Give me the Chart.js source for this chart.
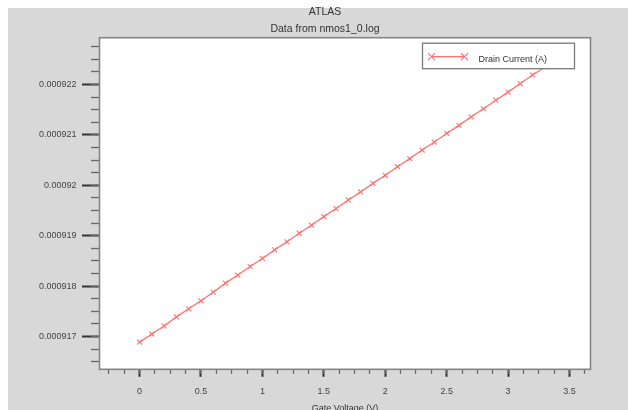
<!DOCTYPE html>
<html>
<head>
<meta charset="utf-8">
<script src="https://cdn.jsdelivr.net/npm/chart.js"></script>
<style>
    html, body { margin: 0; padding: 0; background: #fff; overflow: hidden; }
    #bg { position: absolute; left: 8px; top: 8px; width: 620px; height: 402px; background: #d8d8d8; }
    #wrap { position: absolute; left: 8px; top: 0px; width: 620px; height: 414px; }
</style>
</head>
<body>
<div id="bg"></div>
<div id="wrap"><canvas id="chart1" width="620" height="414"></canvas></div>
<script>
// ------------------------------- DATA

var gateVoltage = [0, 0.1, 0.2, 0.3, 0.4, 0.5, 0.6, 0.7, 0.8, 0.9,
    1.0, 1.1, 1.2, 1.3, 1.4, 1.5, 1.6, 1.7, 1.8, 1.9,
    2.0, 2.1, 2.2, 2.3, 2.4, 2.5, 2.6, 2.7, 2.8, 2.9,
    3.0, 3.1, 3.2, 3.3]

var drainCurrent = [0.00091689, 0.00091705, 0.00091721, 0.00091739, 0.00091755, 0.00091771, 0.00091788, 0.00091806, 0.00091822, 0.00091839,
    0.00091855, 0.00091872, 0.00091888, 0.00091905, 0.00091921, 0.00091938, 0.00091954, 0.00091971, 0.00091987, 0.00092004,
    0.00092020, 0.00092037, 0.00092053, 0.00092070, 0.00092086, 0.00092103, 0.00092119, 0.00092136, 0.00092152, 0.00092169,
    0.00092185, 0.00092202, 0.00092219, 0.00092235]

var xTicks = [0, 0.5, 1, 1.5, 2, 2.5, 3, 3.5]
var xTickLabels = ['0', '0.5', '1', '1.5', '2', '2.5', '3', '3.5']
var yTicks = [0.000917, 0.000918, 0.000919, 0.00092, 0.000921, 0.000922]
var yTickLabels = ['0.000917', '0.000918', '0.000919', '0.00092', '0.000921', '0.000922']

var seriesLabel = 'Drain Current (A)'
var titleText = 'ATLAS'
var subtitleText = 'Data from nmos1_0.log'
var xTitle = 'Gate Voltage (V)'


// ------------------------------- SETTINGS

var lineCol = 'rgb(255,112,112)'
var fontFam = "'Liberation Sans', Arial, sans-serif"
var font9 = {family: fontFam, size: 9}
var xRange = {min: -0.326, max: 3.671}
var yRange = {min: 0.00091635, max: 0.00092293}

function minorTicks(major, n, range){
    // n minor steps between majors, kept inside the axis range
    let step = (major[1]-major[0])/n
    let out = []
    for(let k = -n; k <= (major.length-1)*n + n; k++){
        let v = major[0] + k*step
        if(v > range.min && v < range.max) out.push({value: v})
    }
    return out
}

var frame = {
    id: 'frame',
    beforeDraw: (chart) => {
        let a = chart.chartArea
        let ctx = chart.ctx
        ctx.save()
        ctx.fillStyle = '#fff'
        ctx.fillRect(a.left, a.top, a.right-a.left, a.bottom-a.top)
        ctx.restore()
    },
    afterDatasetsDraw: (chart) => {
        let a = chart.chartArea
        let ctx = chart.ctx
        ctx.save()
        ctx.strokeStyle = '#858585'
        ctx.lineWidth = 1.6
        ctx.strokeRect(a.left, a.top, a.right-a.left, a.bottom-a.top)

        // legend box
        let bx = a.right - 168, by = a.top + 5.5, bw = 152, bh = 25.5
        ctx.fillStyle = '#fff'
        ctx.fillRect(bx, by, bw, bh)
        ctx.strokeStyle = '#7a7a7a'
        ctx.lineWidth = 1.3
        ctx.strokeRect(bx, by, bw, bh)

        let ly = by + 13.5
        let x1 = bx + 9, x2 = bx + 42
        ctx.strokeStyle = lineCol
        ctx.lineWidth = 1.2
        ctx.beginPath()
        ctx.moveTo(x1, ly)
        ctx.lineTo(x2, ly)
        for(let cx of [x1, x2]){
            ctx.moveTo(cx-3.5, ly-3.5); ctx.lineTo(cx+3.5, ly+3.5)
            ctx.moveTo(cx-3.5, ly+3.5); ctx.lineTo(cx+3.5, ly-3.5)
        }
        ctx.stroke()

        ctx.fillStyle = '#333'
        ctx.font = '9px ' + fontFam
        ctx.textBaseline = 'middle'
        ctx.fillText(seriesLabel, bx + 56, ly + 2.5)
        ctx.restore()
    }
}

var chart = document.getElementById('chart1')
var ivChart = new Chart(chart, {
    type: 'line',
    data: {
        datasets: [{
            label: seriesLabel,
            data: gateVoltage.map((v, i) => ({x: v, y: drainCurrent[i]})),
            borderColor: lineCol,
            backgroundColor: lineCol,
            borderWidth: 1.3,
            pointStyle: 'crossRot',
            pointRadius: 3.5,
            pointBorderWidth: 1.1,
            pointBorderColor: lineCol,
            tension: 0,
            yAxisID: 'y'
        }]
    },
    options: {
        responsive: false,
        animation: false,
        layout: {padding: {left: 14, right: 0, top: 0, bottom: 0}},
        plugins: {
            legend: {display: false},
            tooltip: {enabled: false},
            title: {
                display: true,
                text: titleText,
                color: '#333',
                font: {family: fontFam, size: 10.5, weight: 'normal', lineHeight: 1.2},
                padding: {top: 5.7, bottom: 2}
            },
            subtitle: {
                display: true,
                text: subtitleText,
                color: '#333',
                font: {family: fontFam, size: 10.5, lineHeight: 1.2},
                padding: {top: 2.4, bottom: 2.4}
            }
        },
        scales: {
            x: {
                type: 'linear',
                position: 'bottom',
                weight: 1,
                min: xRange.min,
                max: xRange.max,
                afterBuildTicks: (s) => { s.ticks = xTicks.map(v => ({value: v})) },
                afterFit: (s) => { s.height = 414 - 369.3 },
                ticks: {
                    callback: (v, i) => xTickLabels[i],
                    font: font9,
                    color: '#444',
                    padding: 9,
                    maxRotation: 0,
                    autoSkip: false
                },
                grid: {drawOnChartArea: false, drawTicks: true, tickLength: 7.5, tickColor: '#333', tickWidth: 2},
                border: {display: false},
                title: {display: true, text: xTitle, color: '#333', font: font9, padding: {top: 0, bottom: 0.5}}
            },
            xMinor: {
                type: 'linear',
                position: 'bottom',
                weight: 0,
                min: xRange.min,
                max: xRange.max,
                afterBuildTicks: (s) => { s.ticks = minorTicks(xTicks, 4, xRange) },
                afterFit: (s) => { s.height = 0 },
                ticks: {display: false},
                grid: {drawOnChartArea: false, drawTicks: true, tickLength: 4.5, tickColor: '#666', tickWidth: 1.3},
                border: {display: false}
            },
            y: {
                type: 'linear',
                position: 'left',
                weight: 1,
                min: yRange.min,
                max: yRange.max,
                afterBuildTicks: (s) => { s.ticks = yTicks.map(v => ({value: v})) },
                afterFit: (s) => { s.width = 91.5 - 14 },
                ticks: {
                    callback: (v, i) => yTickLabels[i],
                    font: font9,
                    color: '#444',
                    padding: 5.5
                },
                grid: {drawOnChartArea: false, drawTicks: true, tickLength: 17.5, tickColor: '#333', tickWidth: 2},
                border: {display: false}
            },
            yMinor: {
                type: 'linear',
                position: 'left',
                weight: 0,
                min: yRange.min,
                max: yRange.max,
                afterBuildTicks: (s) => { s.ticks = minorTicks(yTicks, 4, yRange) },
                afterFit: (s) => { s.width = 0 },
                ticks: {display: false},
                grid: {drawOnChartArea: false, drawTicks: true, tickLength: 8.5, tickColor: '#666', tickWidth: 1.3},
                border: {display: false}
            },
            // empty axis that only keeps the right margin
            yPad: {
                type: 'linear',
                position: 'right',
                min: yRange.min,
                max: yRange.max,
                afterFit: (s) => { s.width = 37.5 },
                ticks: {display: false},
                grid: {display: false},
                border: {display: false}
            }
        }
    },
    plugins: [frame]
})
</script>
</body>
</html>
